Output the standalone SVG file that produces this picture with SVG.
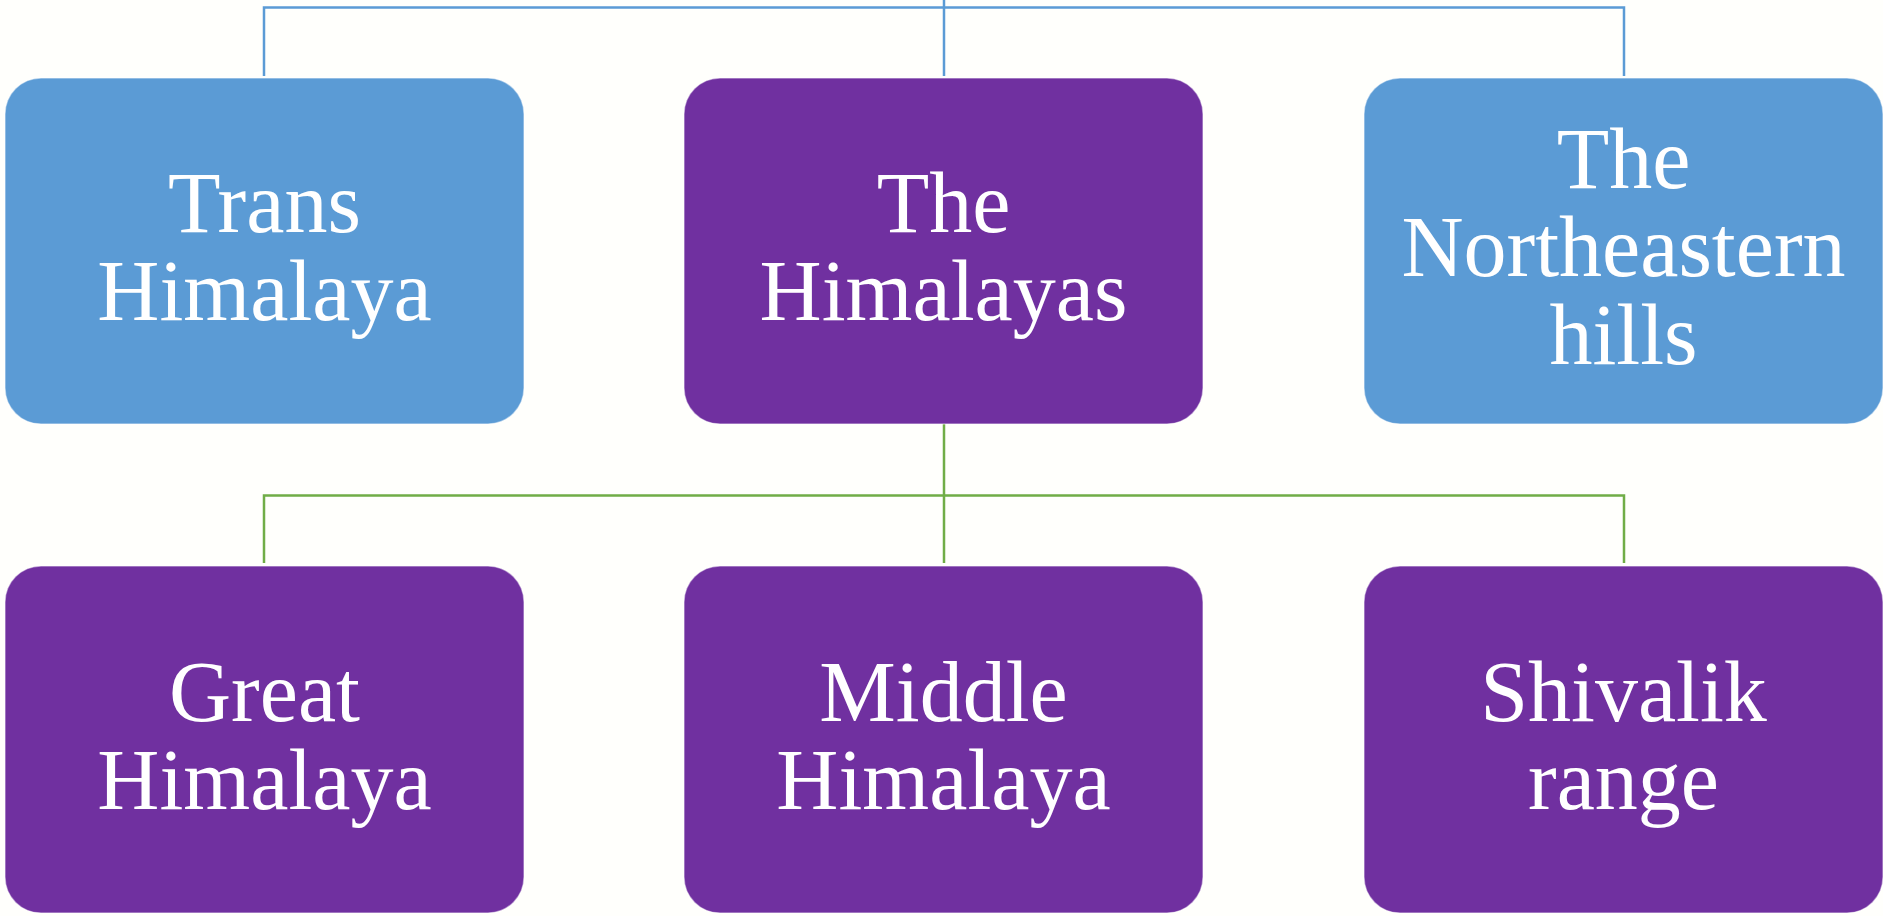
<svg xmlns="http://www.w3.org/2000/svg" width="1883" height="916" viewBox="0 0 1883 916">
<style>
.box{stroke:#ffffff;stroke-opacity:0.45;stroke-width:1.5}
.blue{fill:#5b9bd5}
.purple{fill:#7030a0}
.lbl{font-family:"Liberation Serif","Times New Roman",serif;font-size:86px;fill:#ffffff;text-anchor:middle}
.cb{fill:none;stroke:#5b9bd5;stroke-width:2.5}
.cg{fill:none;stroke:#70ad47;stroke-width:2.5}
</style>
<rect x="0" y="0" width="1883" height="916" fill="#fffffc"/>
<g id="connectors">
<path class="cb" d="M944 0 V76 M264 76 V7.5 H1624 V76"/>
<path class="cg" d="M944 424 V563 M264 563 V495.5 H1624 V563"/>
</g>
<g id="trans-himalaya">
<rect class="box blue" x="5" y="78" width="519" height="346" rx="36"/>
<text class="lbl" x="264.5" y="232">Trans</text>
<text class="lbl" x="264.5" y="320">Himalaya</text>
</g>
<g id="the-himalayas">
<rect class="box purple" x="684" y="78" width="519" height="346" rx="36"/>
<text class="lbl" x="943.5" y="232">The</text>
<text class="lbl" x="943.5" y="320">Himalayas</text>
</g>
<g id="northeastern-hills">
<rect class="box blue" x="1364" y="78" width="519" height="346" rx="36"/>
<text class="lbl" x="1623.5" y="188">The</text>
<text class="lbl" x="1623.5" y="276">Northeastern</text>
<text class="lbl" x="1623.5" y="364">hills</text>
</g>
<g id="great-himalaya">
<rect class="box purple" x="5" y="566" width="519" height="347" rx="36"/>
<text class="lbl" x="264.5" y="721">Great</text>
<text class="lbl" x="264.5" y="809">Himalaya</text>
</g>
<g id="middle-himalaya">
<rect class="box purple" x="684" y="566" width="519" height="347" rx="36"/>
<text class="lbl" x="943.5" y="721">Middle</text>
<text class="lbl" x="943.5" y="809">Himalaya</text>
</g>
<g id="shivalik-range">
<rect class="box purple" x="1364" y="566" width="519" height="347" rx="36"/>
<text class="lbl" x="1623.5" y="721">Shivalik</text>
<text class="lbl" x="1623.5" y="809">range</text>
</g>
</svg>
